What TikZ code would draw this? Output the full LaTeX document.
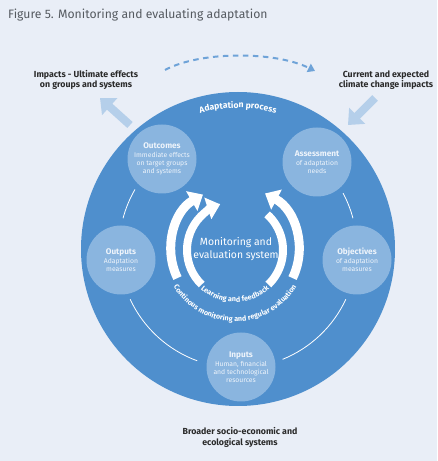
\documentclass[tikz,border=0pt]{standalone}
\usepackage{fontspec}
\setmainfont{Fira Sans}
\usetikzlibrary{arrows.meta,decorations.text}
\definecolor{bgc}{HTML}{E9EEF7}
\definecolor{bigc}{HTML}{4F8FCD}
\definecolor{smallc}{HTML}{8AB5DF}
\definecolor{palec}{HTML}{B5CFEA}
\definecolor{dashc}{HTML}{6FA3D8}
\definecolor{titlec}{HTML}{555A60}
\definecolor{labc}{HTML}{2A2A2A}
\definecolor{softw}{HTML}{EEF4FB}
\tikzset{
  smallcirc/.style={circle, fill=smallc, minimum size=69pt, inner sep=0pt, align=center, text=softw,
    font=\fontsize{6.8}{7.8}\selectfont},
  lab/.style={align=center, text=labc, font=\fontsize{8.8}{10.4}\selectfont\bfseries, inner sep=0pt},
  palearrow/.style={palec, line width=8pt, -{Triangle[width=22pt,length=13pt]}},
  ringarrow/.style={white, -{Triangle[width=22pt,length=13pt]}},
  thinarc/.style={white, line width=0.8pt}
}
\newcommand{\hdr}[1]{{\fontsize{8.2}{10}\selectfont\bfseries #1}}
\begin{document}
\begin{tikzpicture}[x=1pt,y=1pt]
\useasboundingbox (0,0) rectangle (437,461);
\fill[bgc] (0,0) rectangle (437,461);
\node[anchor=base west, inner sep=0pt, text=titlec, font=\fontsize{12.2}{14}\selectfont] (title) at (8,442) {Figure 5. Monitoring and evaluating adaptation};

% big circle
\node[circle, fill=bigc, minimum size=314pt, inner sep=0pt] (big) at (238,212) {};
\coordinate (ring) at (235,211);

% adaptation process text
\path[decorate, decoration={text along path, text align=center, text color=white,
  text={|\fontsize{8.6}{10}\selectfont\bfseries|Adaptation process}}]
  ([shift={(114:141)}]big.center) arc[start angle=114, end angle=66, radius=141];

% thin arcs
\draw[thinarc] ([shift={(150:119)}]big.center) arc[start angle=150, end angle=165, radius=119];
\draw[thinarc] ([shift={(15:119)}]big.center) arc[start angle=15, end angle=28, radius=119];
\draw[thinarc] ([shift={(205:119)}]big.center) arc[start angle=205, end angle=250, radius=119];
\draw[thinarc] ([shift={(292:119)}]big.center) arc[start angle=292, end angle=335, radius=119];

% small circles
\node[smallcirc] (outcomes) at (162,302) {\hdr{Outcomes}\\[1pt]Immediate effects\\on target groups\\and systems};
\node[smallcirc] (assess) at (317,299) {\hdr{Assessment}\\[1pt]of adaptation\\needs};
\node[smallcirc] (outputs) at (121,201) {\hdr{Outputs}\\[1pt]Adaptation\\measures};
\node[smallcirc] (objectives) at (357,201) {\hdr{Objectives}\\[1pt]of adaptation\\measures};
\node[smallcirc] (inputs) at (241,94) {\hdr{Inputs}\\[1pt]Human, financial\\and technological\\resources};

% central M&E
\draw[ringarrow, line width=9pt] ([shift={(206:64)}]ring) arc[start angle=206, end angle=120, radius=64];
\draw[ringarrow, line width=9pt] ([shift={(-26:64)}]ring) arc[start angle=-26, end angle=62, radius=64];
\draw[ringarrow, line width=8pt] ([shift={(226:48)}]ring) arc[start angle=226, end angle=108, radius=48];
\draw[white, line width=8pt] ([shift={(-46:48)}]ring) arc[start angle=-46, end angle=48, radius=48];
\path[decorate, decoration={text along path, text align=center, text color=white,
  text={|\fontsize{7.2}{9}\selectfont\bfseries|Continous monitoring and regular evaluation}}]
  ([shift={(198:71.5)}]ring) arc[start angle=198, end angle=342, radius=71.5];
\path[decorate, decoration={text along path, text align=center, text color=white,
  text={|\fontsize{7.2}{9}\selectfont\bfseries|Learning and feedback}}]
  ([shift={(222:52)}]ring) arc[start angle=222, end angle=318, radius=52];
\node[align=center, text=white, font=\fontsize{10.4}{12.2}\selectfont] (me) at (236,212) {Monitoring and\\evaluation system};

% outside labels
\node[lab] (impacts) at (86,381) {Impacts - Ultimate effects\\on groups and systems};
\node[lab] (climate) at (386,381) {Current and expected\\climate change impacts};
\node[lab] (broader) at (240,23.5) {Broader socio-economic and\\ecological systems};

% pale arrows
\coordinate (la1) at (130,336);
\coordinate (la2) at (100,363);
\draw[palearrow] (la1) -- (la2);
\coordinate (ra1) at (375,363);
\coordinate (ra2) at (348,336);
\draw[palearrow] (ra1) -- (ra2);

% dashed arrow
\coordinate (d1) at (165,391);
\coordinate (d2) at (315,390);
\draw[dashc, line width=2pt, dash pattern=on 5.5pt off 4.5pt, -{Triangle[width=9pt,length=7pt]}]
  (d1) .. controls (200,410) and (275,410) .. (d2);
\end{tikzpicture}
\end{document}
